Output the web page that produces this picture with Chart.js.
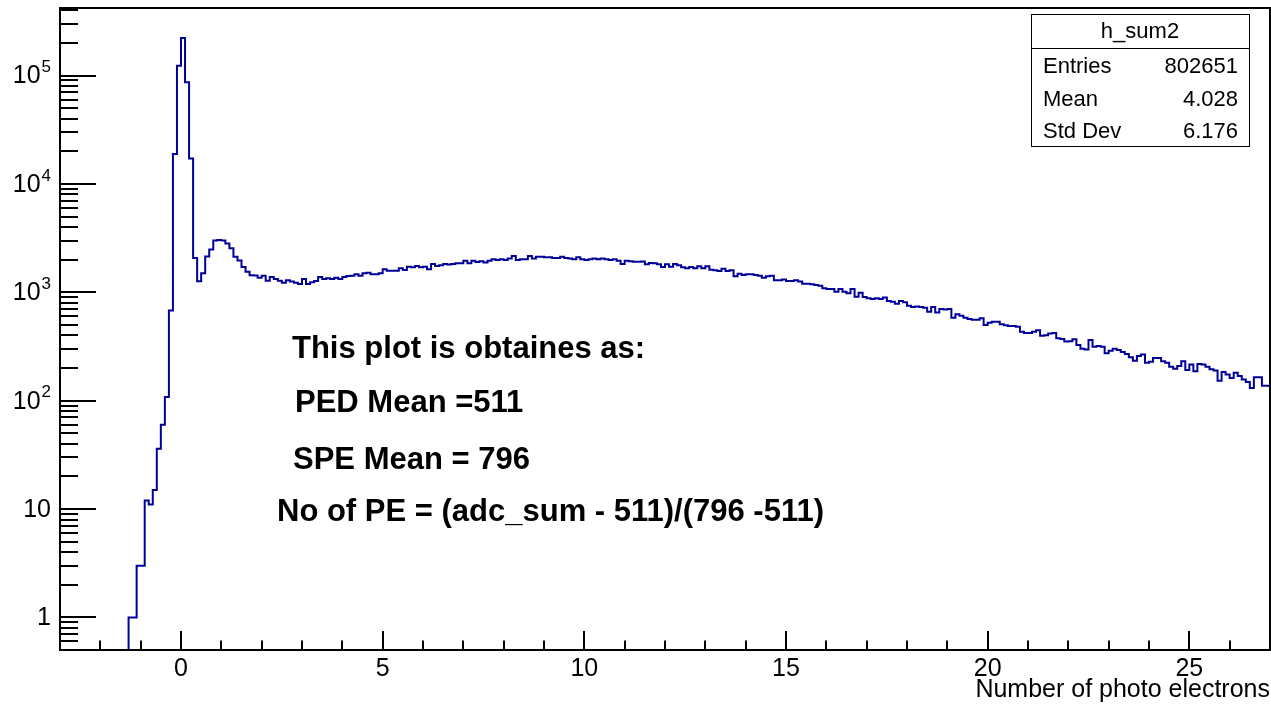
<!DOCTYPE html>
<html>
<head>
<meta charset="utf-8">
<script src="https://cdn.jsdelivr.net/npm/chart.js@4.4.0/dist/chart.umd.min.js"></script>
<style>
  html, body { margin: 0; padding: 0; background: #fff; }
</style>
</head>
<body>
<canvas id="grafico" width="1271" height="706"></canvas>
<script>
// histogram h_sum2, bins of 0.1 PE starting at -3
const histMin = -3.0;
const binWidth = 0.1;
const xMin = -3.0;
const xMax = 27.0;
const yMin = 0.5;
const yMax = 4.2e5;
const xTickValues = [0, 5, 10, 15, 20, 25];

const counts = [
  // -3.0 .. -1.4 : empty
  0, 0, 0, 0, 0, 0, 0, 0, 0, 0, 0, 0, 0, 0, 0, 0, 0,
  // -1.3 ..
  1, 1, 3, 3, 12, 11, 15, 36, 60, 108,
  680, 18900, 123000, 222000, 86700, 17200, 2070, 1265, 1500, 2135,
  2480, 3010, 3030, 3000, 2820, 2550, 2130, 1960, 1715, 1550,
  1435, 1430, 1360, 1423, 1279, 1386, 1327, 1279, 1227, 1290,
  1260, 1227, 1194, 1327, 1194, 1237, 1270, 1386, 1327, 1345,
  1327, 1362, 1327, 1386, 1415, 1423, 1470, 1423, 1497, 1517,
  1470, 1470, 1497, 1630, 1583, 1583, 1583, 1665, 1605, 1722,
  1700, 1750, 1700, 1722, 1630, 1824, 1750, 1776, 1824, 1800,
  1824, 1853, 1853, 1958, 1853, 1958, 1905, 1930, 1880, 1958,
  2015, 1985, 2015, 1985, 2045, 2162, 1985, 2015, 2015, 2162,
  2045, 2130, 2130, 2100, 2100, 2070, 2070, 2130, 2070, 2045,
  2015, 2100, 2015, 1985, 2015, 2045, 2015, 2045, 2015, 1985,
  2015, 1958, 1824, 1958, 1930, 1910, 1910, 1922, 1812, 1866,
  1853, 1812, 1711, 1812, 1722, 1824, 1776, 1700, 1665, 1711,
  1665, 1736, 1665, 1736, 1618, 1597, 1575, 1650, 1575, 1597,
  1406, 1485, 1445, 1465, 1465, 1445, 1423, 1362, 1406, 1423,
  1290, 1290, 1310, 1270, 1270, 1290, 1260, 1200, 1200, 1185,
  1165, 1150, 1088, 1073, 1073, 1012, 1073, 1012, 980, 1073,
  910, 990, 905, 880, 867, 880, 867, 894, 832, 818,
  785, 832, 807, 752, 731, 741, 731, 720, 662, 731,
  650, 702, 692, 702, 583, 626, 608, 583, 567, 559,
  559, 577, 499, 523, 534, 534, 508, 496, 489, 489,
  481, 433, 421, 421, 433, 447, 398, 402, 416, 421,
  376, 370, 352, 353, 368, 327, 302, 297, 363, 315,
  320, 315, 274, 289, 302, 294, 281, 270, 251, 234,
  258, 266, 224, 228, 248, 248, 231, 224, 206, 197,
  209, 231, 192, 215, 187, 218, 215, 206, 195, 190,
  153, 184, 174, 162, 181, 169, 157, 149, 131, 164,
  164, 137, 137
];

const yLabels = [
  { value: 1, base: '1', exp: '' },
  { value: 10, base: '10', exp: '' },
  { value: 100, base: '10', exp: '2' },
  { value: 1000, base: '10', exp: '3' },
  { value: 10000, base: '10', exp: '4' },
  { value: 100000, base: '10', exp: '5' }
];

const xTitle = 'Number of photo electrons';
const statsTitle = 'h_sum2';
const statsRows = [
  ['Entries', '802651'],
  ['Mean', '4.028'],
  ['Std Dev', '6.176']
];
const notas = [
  { text: 'This plot is obtaines as:', x: 292, y: 349 },
  { text: 'PED Mean =511', x: 295, y: 403 },
  { text: 'SPE Mean = 796', x: 293, y: 460 },
  { text: 'No of PE = (adc_sum - 511)/(796 -511)', x: 277, y: 512 }
];

const fonte = "'Liberation Sans', Arial, sans-serif";

// bins vazios ficam abaixo do eixo (log), a linha desce ate o fundo e e cortada
const pontos = counts.map((c, i) => ({ x: histMin + i * binWidth, y: c > 0 ? c : yMin / 10 }));
pontos.push({ x: histMin + counts.length * binWidth, y: yMin / 10 });

// eixos, caixa de estatistica e textos do ROOT
const rootPlugin = {
  id: 'rootFrame',
  afterDraw(chart) {
    const ctx = chart.ctx;
    const area = chart.chartArea;
    const xs = chart.scales.x;
    const ys = chart.scales.y;

    ctx.save();
    ctx.strokeStyle = '#000';
    ctx.lineWidth = 2;
    ctx.strokeRect(area.left, area.top, area.right - area.left, area.bottom - area.top);

    // ticks x
    ctx.beginPath();
    for (let v = Math.ceil(xMin); v < xMax; v++) {
      const px = Math.round(xs.getPixelForValue(v));
      const len = v % 5 === 0 ? 19 : 9.5;
      ctx.moveTo(px, area.bottom);
      ctx.lineTo(px, area.bottom - len);
    }
    // ticks y
    for (let d = -1; d <= 5; d++) {
      for (let m = 1; m <= 9; m++) {
        const v = m * Math.pow(10, d);
        if (v < yMin || v > yMax) continue;
        const py = Math.round(ys.getPixelForValue(v));
        const len = m === 1 ? 36 : 18;
        ctx.moveTo(area.left, py);
        ctx.lineTo(area.left + len, py);
      }
    }
    ctx.stroke();

    // rotulos y
    ctx.fillStyle = '#000';
    ctx.textBaseline = 'middle';
    yLabels.forEach(l => {
      const py = ys.getPixelForValue(l.value);
      const right = 51;
      ctx.font = '17px ' + fonte;
      const wExp = l.exp ? ctx.measureText(l.exp).width : 0;
      ctx.textAlign = 'right';
      if (l.exp) ctx.fillText(l.exp, right, py - 8);
      ctx.font = '25px ' + fonte;
      ctx.fillText(l.base, right - wExp - (l.exp ? 1 : 0), py + 1);
    });

    // titulo eixo x
    ctx.font = '25px ' + fonte;
    ctx.textAlign = 'right';
    ctx.fillText(xTitle, 1270, 690);

    // caixa de estatistica
    const bx = 1031, by = 14, bw = 218, bh = 132;
    ctx.fillStyle = '#fff';
    ctx.fillRect(bx, by, bw, bh);
    ctx.lineWidth = 1;
    ctx.strokeRect(bx + 0.5, by + 0.5, bw, bh);
    ctx.beginPath();
    ctx.moveTo(bx, by + 34.5);
    ctx.lineTo(bx + bw, by + 34.5);
    ctx.stroke();
    ctx.fillStyle = '#000';
    ctx.font = '22px ' + fonte;
    ctx.textAlign = 'center';
    ctx.fillText(statsTitle, bx + bw / 2, by + 18);
    statsRows.forEach((r, i) => {
      const py = by + 53 + i * 32.5;
      ctx.textAlign = 'left';
      ctx.fillText(r[0], bx + 12, py);
      ctx.textAlign = 'right';
      ctx.fillText(r[1], bx + bw - 11, py);
    });

    // textos
    ctx.font = 'bold 31px ' + fonte;
    ctx.textAlign = 'left';
    notas.forEach(n => ctx.fillText(n.text, n.x, n.y));
    ctx.restore();
  }
};

new Chart(document.getElementById('grafico').getContext('2d'), {
  type: 'line',
  data: {
    datasets: [{
      label: statsTitle,
      data: pontos,
      stepped: true,
      borderColor: '#000099',
      borderWidth: 2,
      pointRadius: 0,
      fill: false
    }]
  },
  options: {
    responsive: false,
    animation: false,
    devicePixelRatio: 1,
    layout: { padding: { top: 8, right: 1, left: 0, bottom: 0 } },
    plugins: {
      legend: { display: false },
      title: { display: false },
      tooltip: { enabled: false }
    },
    scales: {
      x: {
        type: 'linear',
        min: xMin,
        max: xMax,
        grid: { display: false, drawTicks: false },
        border: { display: false },
        ticks: {
          autoSkip: false,
          maxRotation: 0,
          padding: 4,
          color: '#000',
          font: { size: 25, family: fonte }
        },
        afterBuildTicks(scale) {
          scale.ticks = xTickValues.map(v => ({ value: v }));
        },
        afterFit(scale) { scale.height = 56; }
      },
      y: {
        type: 'logarithmic',
        min: yMin,
        max: yMax,
        grid: { display: false, drawTicks: false },
        border: { display: false },
        ticks: { display: false },
        afterFit(scale) { scale.width = 60; }
      }
    }
  },
  plugins: [rootPlugin]
});
</script>
</body>
</html>
